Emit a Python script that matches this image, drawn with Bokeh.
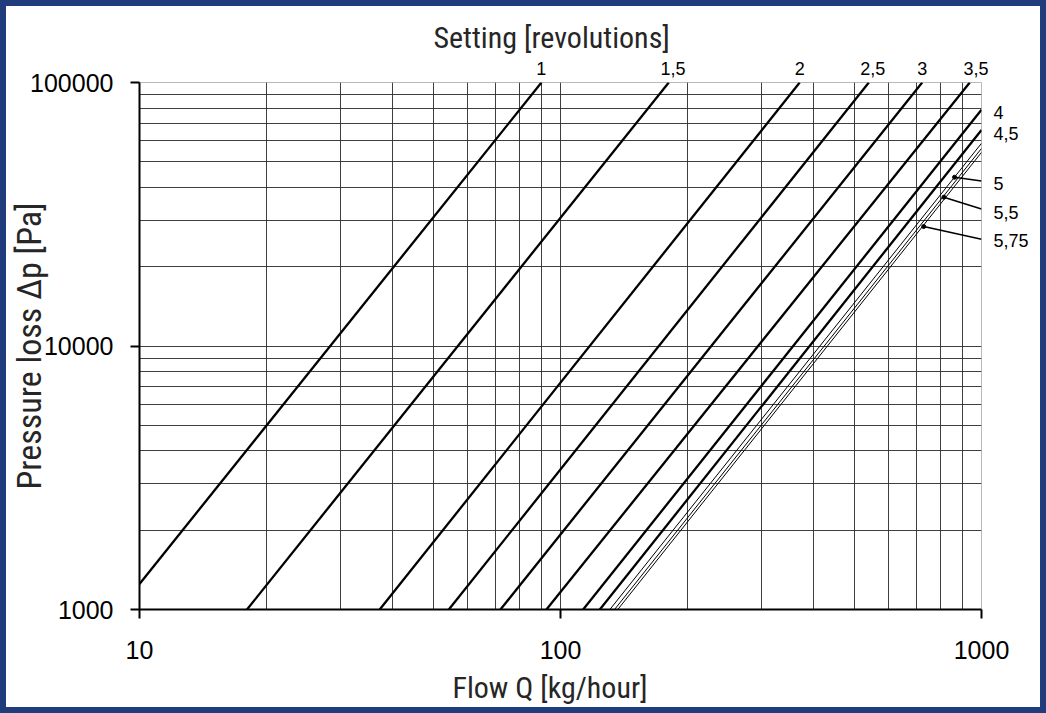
import math
from bokeh.plotting import figure
from bokeh.models import (FixedTicker, PrintfTickFormatter, LogAxis, Title, ColumnDataSource)
from bokeh.embed import file_html
from bokeh.resources import INLINE

# ---- data ----
settings = ["1", "1,5", "2", "2,5", "3", "3,5", "4", "4,5", "5", "5,5", "5,75"]
q_start = [10.0, 18.0, 37.2, 54.3, 72.0, 92.6, 113.2, 124.0, 131.0, 134.4, 136.8]
p_start = [1250, 1000, 1000, 1000, 1000, 1000, 1000, 1000, 1000, 1000, 1000]
q_end = [90.1, 180.8, 370.0, 540.0, 723.0, 938.0, 1000, 1000, 1000, 1000, 1000]
p_end = [100000, 100000, 100000, 100000, 100000, 100000, 78800, 66000, 58800, 56200, 54300]
thin_curve = [False, False, False, False, False, False, False, False, True, True, True]

x_ticks = [10, 100, 1000]
y_ticks = [1000, 10000, 100000]
x_grid = [10, 20, 30, 40, 50, 60, 70, 80, 90, 100, 200, 300, 400, 500, 600, 700, 800, 900, 1000]
y_grid = [1000, 2000, 3000, 4000, 5000, 6000, 7000, 8000, 9000,
          10000, 20000, 30000, 40000, 50000, 60000, 70000, 80000, 90000, 100000]

top_label_text = ["1", "1,5", "2", "2,5", "3", "3,5"]
top_label_q = [90, 185, 370, 552, 723, 971]

right_label_text = ["4", "4,5", "5", "5,5", "5,75"]
right_label_p = [77100, 63900, 41500, 32200, 25150]

leader_q0 = [863, 814, 729]
leader_p0 = [43700, 36700, 28400]
leader_q1 = [1000, 1000, 1000]
leader_p1 = [42300, 33100, 25400]

title_text = "Setting [revolutions]"
x_title = "Flow Q [kg/hour]"
y_title = "Pressure loss \u0394p [Pa]"

NARROW = "Roboto Condensed, DejaVu Sans Condensed, Liberation Sans"
SANS = "Liberation Sans"
NAVY = "#213c7c"
TXT = "#262626"
BW = 6  # navy frame width (CSS border, clipped into the canvas)

W, H = 1046, 713
p = figure(width=W, height=H, x_axis_type="log", y_axis_type="log",
           x_range=(10, 1000), y_range=(1000, 100000),
           output_backend="svg", toolbar_location=None,
           min_border_left=139 - BW, min_border_right=W + BW - 981,
           min_border_top=82 - BW, min_border_bottom=H + BW - 609,
           styles={"border": f"{BW}px solid {NAVY}"})
p.background_fill_color = "white"
p.border_fill_color = "white"
p.outline_line_color = "#b8b8b8"
p.outline_line_width = 1

# title
p.title.text = title_text
p.title.align = "left"
p.title.offset = 294
p.title.standoff = 7
p.title.text_font = NARROW
p.title.text_font_size = "30px"
p.title.text_font_style = "normal"
p.title.text_color = TXT

# grid
p.xgrid.ticker = FixedTicker(ticks=x_grid)
p.ygrid.ticker = FixedTicker(ticks=y_grid)
for g in (p.xgrid, p.ygrid):
    g.grid_line_color = "#2a2a2a"
    g.grid_line_width = 1
    g.grid_line_alpha = 0.9

# axes
p.xaxis.ticker = FixedTicker(ticks=x_ticks, minor_ticks=[])
p.yaxis.ticker = FixedTicker(ticks=y_ticks, minor_ticks=[])
for ax in (p.xaxis, p.yaxis):
    ax.formatter = PrintfTickFormatter(format="%d")
    ax.axis_line_width = 2
    ax.axis_line_color = "black"
    ax.major_tick_line_width = 2
    ax.major_tick_line_color = "black"
    ax.major_tick_out = 9
    ax.major_tick_in = 0
    ax.minor_tick_line_color = None
    ax.major_label_text_font = SANS
    ax.major_label_text_font_size = "25px"
    ax.major_label_text_color = "black"
p.xaxis.major_label_standoff = 22
p.yaxis.major_label_standoff = 17

p.yaxis.axis_label = y_title
p.yaxis.axis_label_standoff = -22
p.yaxis.axis_label_text_font = NARROW
p.yaxis.axis_label_text_font_size = "34px"
p.yaxis.axis_label_text_font_style = "normal"
p.yaxis.axis_label_text_color = TXT

# x axis title as a title below the axis
p.add_layout(Title(text=x_title, align="left", offset=313, standoff=16, vertical_align="top",
                   text_font=NARROW, text_font_size="30px", text_font_style="normal",
                   text_color=TXT), "below")

# setting labels as extra (line-less) axes
top_axis = LogAxis(ticker=FixedTicker(ticks=top_label_q, minor_ticks=[]),
                   major_label_overrides={q: t for q, t in zip(top_label_q, top_label_text)},
                   axis_line_color=None, major_tick_line_color=None, minor_tick_line_color=None,
                   major_label_standoff=2, major_label_text_font=SANS,
                   major_label_text_font_size="18px", major_label_text_color="black")
p.add_layout(top_axis, "above")
right_axis = LogAxis(ticker=FixedTicker(ticks=right_label_p, minor_ticks=[]),
                     major_label_overrides={v: t for v, t in zip(right_label_p, right_label_text)},
                     axis_line_color=None, major_tick_line_color=None, minor_tick_line_color=None,
                     major_label_standoff=6, major_label_text_font=SANS,
                     major_label_text_font_size="18px", major_label_text_color="black")
p.add_layout(right_axis, "right")

# curves
src = ColumnDataSource(dict(
    q0=q_start, p0=p_start, q1=q_end, p1=p_end,
    w=[1.0 if t else 2.3 for t in thin_curve],
    name=settings))
p.segment(x0="q0", y0="p0", x1="q1", y1="p1", line_width="w", line_color="black", source=src)

# leader lines + dots
p.segment(x0=leader_q0, y0=leader_p0, x1=leader_q1, y1=leader_p1, line_color="black", line_width=1.5)
p.scatter(leader_q0, leader_p0, size=4, color="black")

open("out.html", "w").write(file_html(p, INLINE))
